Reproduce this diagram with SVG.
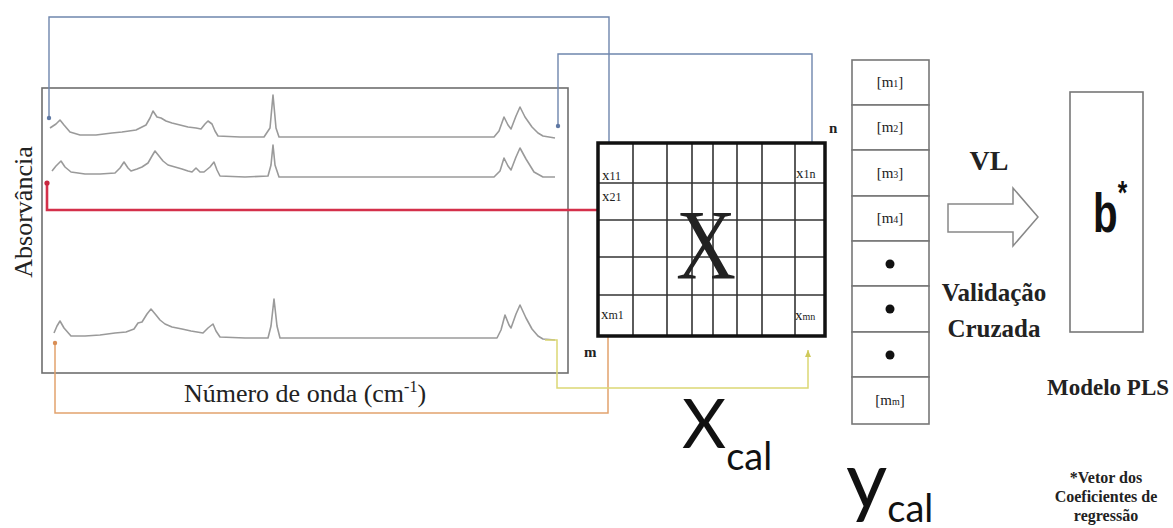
<svg xmlns="http://www.w3.org/2000/svg" width="1173" height="528" viewBox="0 0 1173 528">
<style>
.serif{font-family:"Liberation Serif","Times New Roman",serif;fill:#222}
.bold{font-weight:bold}
.sans{font-family:Lato,"Liberation Sans",sans-serif;fill:#111}
.spec{fill:none;stroke:#9a9a9a;stroke-width:1.6;stroke-linejoin:round}
.grid{stroke:#333;stroke-width:1.6}
.cell{fill:#fff;stroke:#777;stroke-width:1.6}
.cl{font-size:15px;text-anchor:middle}
.conn{fill:none}
</style>
<defs>
<marker id="dotB" markerUnits="userSpaceOnUse" markerWidth="6" markerHeight="6" refX="3" refY="3"><circle cx="3" cy="3" r="2.2" fill="#5f78a3"/></marker>
<marker id="arrB" markerUnits="userSpaceOnUse" markerWidth="8" markerHeight="8" refX="7" refY="4" orient="auto"><path d="M0,1 L7,4 L0,7 z" fill="#5f78a3"/></marker>
<marker id="dotR" markerUnits="userSpaceOnUse" markerWidth="7" markerHeight="7" refX="3.5" refY="3.5"><circle cx="3.5" cy="3.5" r="2.6" fill="#c8283f"/></marker>
<marker id="arrR" markerUnits="userSpaceOnUse" markerWidth="10" markerHeight="10" refX="9" refY="5" orient="auto"><path d="M0,1 L9,5 L0,9 z" fill="#c8283f"/></marker>
<marker id="dotO" markerUnits="userSpaceOnUse" markerWidth="6" markerHeight="6" refX="3" refY="3"><circle cx="3" cy="3" r="2.2" fill="#d98e55"/></marker>
<marker id="arrO" markerUnits="userSpaceOnUse" markerWidth="8" markerHeight="8" refX="7" refY="4" orient="auto"><path d="M0,1 L7,4 L0,7 z" fill="#d98e55"/></marker>
<marker id="arrY" markerUnits="userSpaceOnUse" markerWidth="8" markerHeight="8" refX="7" refY="4" orient="auto"><path d="M0,1 L7,4 L0,7 z" fill="#cfc95a"/></marker>
</defs>
<rect width="1173" height="528" fill="#fff"/>

<g id="spectra">
<rect x="42" y="88" width="526" height="285" fill="none" stroke="#6e6e6e" stroke-width="1.6"/>
<polyline class="spec" points="50,128 56,124 60,120 64,125 70,132 80,135 96,135 112,133 122,132 136,130 146,125 150,118 153,111 157,117 161,118 166,121 172,123 180,125 188,127 196,128 201,129 205,124 208,121 212,124 215,131 218,136 240,137 264,137 270,128 273,95 276,128 279,137 494,137 499,131 504,117 508,125 511,129 516,116 520,107 525,117 532,127 538,133 543,136 555,138"/>
<polyline class="spec" points="52,171 56,166 61,161 65,167 71,172 85,174 100,174 115,173 120,168 124,162 128,168 131,171 137,169 142,167 148,163 152,156 155,151 159,156 163,161 168,165 175,167 182,169 188,171 192,172 196,168 200,172 204,172 210,167 214,162 217,170 220,176 245,177 268,176 271,165 273,145 275,165 279,177 494,177 500,171 504,158 508,166 511,170 516,157 520,148 526,159 534,172 543,177 555,177"/>
<polyline class="spec" points="54,333 57,326 60,321 64,328 71,336 85,336 100,335 115,333 126,332 134,329 138,323 142,322 147,314 151,309 156,315 160,320 165,324 172,327 182,329 191,331 197,332 203,333 208,328 213,324 216,331 220,337 245,338 268,338 271,326 274,299 277,326 280,338 497,338 501,330 505,315 509,325 511,328 516,314 520,305 526,318 532,329 538,336 543,339 555,340"/>
<text class="serif" font-size="26" transform="translate(32,212) rotate(-90)" text-anchor="middle">Absorvância</text>
<text class="serif" font-size="26" x="305" y="402" text-anchor="middle">Número de onda (cm<tspan font-size="16" dy="-10">-1</tspan><tspan dy="10">)</tspan></text>
</g>

<g id="connectors">
<path class="conn" d="M49,118 V17 H609 V158" stroke="#6f86ad" stroke-width="1.4" marker-start="url(#dotB)" marker-end="url(#arrB)"/>
<path class="conn" d="M558,126 V54 H812 V158" stroke="#6f86ad" stroke-width="1.4" marker-start="url(#dotB)" marker-end="url(#arrB)"/>
<path class="conn" d="M47,183 V210 H607" stroke="#d4304a" stroke-width="2.6" marker-start="url(#dotR)" marker-end="url(#arrR)"/>
<path class="conn" d="M55,343 V413 H608 V326" stroke="#e2a36e" stroke-width="1.5" marker-start="url(#dotO)" marker-end="url(#arrO)"/>
<path class="conn" d="M545,340 H557 V388 H808 V350" stroke="#dcd774" stroke-width="1.5" marker-end="url(#arrY)"/>
</g>

<g id="matrix">
<rect x="598" y="143" width="227" height="193" fill="#fff"/>
<g class="grid">
<line x1="633" y1="143" x2="633" y2="336"/><line x1="667" y1="143" x2="667" y2="336"/>
<line x1="692" y1="143" x2="692" y2="336"/><line x1="713" y1="143" x2="713" y2="336"/>
<line x1="737" y1="143" x2="737" y2="336"/><line x1="762" y1="143" x2="762" y2="336"/>
<line x1="795" y1="143" x2="795" y2="336"/>
<line x1="598" y1="183" x2="825" y2="183"/><line x1="598" y1="220" x2="825" y2="220"/>
<line x1="598" y1="257" x2="825" y2="257"/><line x1="598" y1="295" x2="825" y2="295"/>
</g>
<rect x="598" y="143" width="227" height="193" fill="none" stroke="#111" stroke-width="3.5"/>
<text class="serif" font-size="100" x="706" y="278" text-anchor="middle" textLength="60" lengthAdjust="spacingAndGlyphs">X</text>
<text class="serif" font-size="15" x="602" y="180">x<tspan font-size="12">11</tspan></text>
<text class="serif" font-size="15" x="602" y="201">x<tspan font-size="12">21</tspan></text>
<text class="serif" font-size="15" x="796" y="178">x<tspan font-size="12">1n</tspan></text>
<text class="serif" font-size="15" x="601" y="319">x<tspan font-size="12">m1</tspan></text>
<text class="serif" font-size="15" x="795" y="320">x<tspan font-size="10">mn</tspan></text>
<text class="serif bold" font-size="15" x="829" y="133">n</text>
<text class="serif bold" font-size="15" x="584" y="357">m</text>
<text class="sans" font-size="68" x="682" y="448">X<tspan font-size="38" dy="22">cal</tspan></text>
</g>

<g id="yvector">
<rect class="cell" x="852" y="60" width="77" height="45"/>
<rect class="cell" x="852" y="105" width="77" height="45"/>
<rect class="cell" x="852" y="150" width="77" height="46"/>
<rect class="cell" x="852" y="196" width="77" height="45"/>
<rect class="cell" x="852" y="241" width="77" height="45"/>
<rect class="cell" x="852" y="286" width="77" height="46"/>
<rect class="cell" x="852" y="332" width="77" height="45"/>
<rect class="cell" x="852" y="377" width="77" height="47"/>
<text class="serif cl" x="890" y="87">[m<tspan font-size="10">1</tspan>]</text>
<text class="serif cl" x="890" y="132">[m<tspan font-size="10">2</tspan>]</text>
<text class="serif cl" x="890" y="178">[m<tspan font-size="10">3</tspan>]</text>
<text class="serif cl" x="890" y="223">[m<tspan font-size="10">4</tspan>]</text>
<circle cx="890" cy="264" r="4.5" fill="#111"/>
<circle cx="890" cy="309" r="4.5" fill="#111"/>
<circle cx="890" cy="355" r="4.5" fill="#111"/>
<text class="serif cl" x="890" y="405">[m<tspan font-size="10">m</tspan>]</text>
<text class="sans" font-size="80" x="846" y="508">y<tspan font-size="38" dy="14">cal</tspan></text>
</g>

<g id="vl-arrow">
<polygon points="948,204 1013,204 1013,188 1038,217 1013,246 1013,232 948,232" fill="#fff" stroke="#888" stroke-width="1.5"/>
<text class="serif bold" font-size="28" x="989" y="170" text-anchor="middle">VL</text>
<text class="serif bold" font-size="25" x="994" y="301" text-anchor="middle">Validação</text>
<text class="serif bold" font-size="25" x="994" y="337" text-anchor="middle">Cruzada</text>
</g>

<g id="model">
<rect x="1070" y="92" width="73" height="240" fill="#fff" stroke="#777" stroke-width="1.6"/>
<text font-family="'Liberation Sans',Arial,sans-serif" font-weight="bold" font-size="56" fill="#111" transform="translate(1093,232) scale(0.72,1)">b<tspan font-size="34" dy="-28">*</tspan></text>
<text class="serif bold" font-size="23" x="1108" y="395" text-anchor="middle">Modelo PLS</text>
<text class="serif bold" font-size="16" x="1106" y="483" text-anchor="middle">*Vetor dos</text>
<text class="serif bold" font-size="16" x="1106" y="502" text-anchor="middle">Coeficientes de</text>
<text class="serif bold" font-size="16" x="1106" y="521" text-anchor="middle">regressão</text>
</g>
</svg>
